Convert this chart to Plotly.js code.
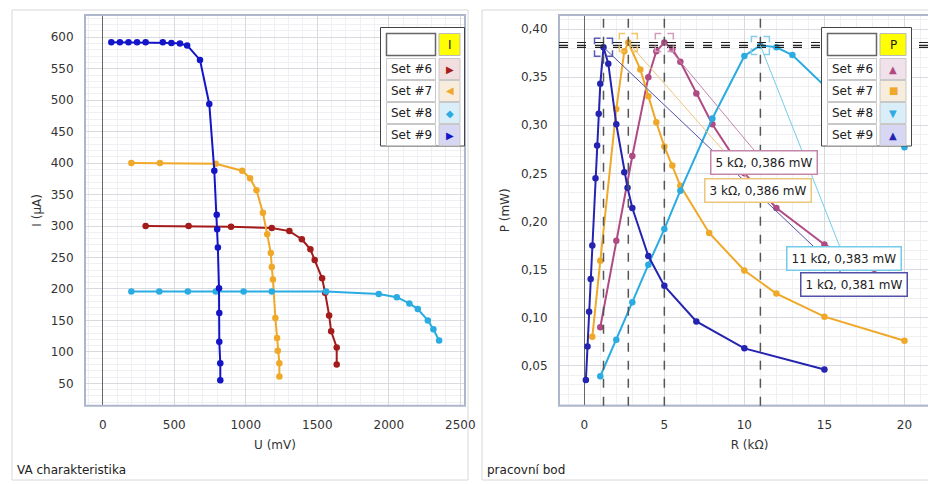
<!DOCTYPE html>
<html>
<head>
<meta charset="utf-8">
<script src="https://cdn.plot.ly/plotly-3.0.1.min.js"></script>
<style>
html,body{margin:0;padding:0;overflow:hidden;background:#fff;}
#chart{width:960px;height:484px;}
</style>
</head>
<body>
<div id="chart"></div>
<script>
// ---------- DATA: VA charakteristika (U in mV, I in µA) ----------
const u6 = [300,600,897,1182,1305,1392,1452,1482,1534,1555,1583,1597,1636,1636];
const i6 = [300,300,299,297,292,279,263,246,217,194,158,133,107,80];
const u7 = [200,400,790,975,1030,1075,1120,1150,1175,1182,1190,1207,1219,1224,1235,1235];
const i7 = [400,400,399,388,376,357,321,287,257,235,215,154,122,102,82,61];
const u8 = [200,395,595,790,985,1182,1562,1930,2056,2144,2203,2273,2312,2352];
const i8 = [196,196,196,196,196,196,196,192,187,177,168,150,136,118];
const u9 = [60,120,180,240,300,420,480,540,590,680,745,780,797,800,805,813,815,815,822,822];
const i9 = [592,592,592,592,592,592,591,590,587,564,494,388,318,295,266,201,162,116,82,55];

// ---------- DATA: pracovní bod (R in kΩ, P in mW) ----------
const r6 = [1.0,2.0,3.0,4.0,4.5,5.0,5.5,6.0,7.0,8.0,10,12,15,20];
const p6 = [0.090,0.180,0.268,0.350,0.377,0.386,0.379,0.366,0.333,0.301,0.250,0.214,0.176,0.131];
const r7 = [0.5,1.0,2.0,2.5,2.75,3.5,4.0,4.5,5.0,5.5,6.0,7.8,10,12,15,20];
const p7 = [0.080,0.159,0.317,0.377,0.386,0.358,0.330,0.303,0.278,0.258,0.237,0.188,0.149,0.125,0.101,0.076];
const r8 = [1.0,2.0,3.0,4.0,5.0,6.0,8.0,10,11,12,13,15,17,20];
const p8 = [0.039,0.077,0.116,0.155,0.192,0.232,0.307,0.372,0.383,0.381,0.373,0.341,0.314,0.277];
const r9 = [0.1,0.2,0.3,0.4,0.5,0.7,0.8,0.9,1.0,1.2,1.5,2.0,2.5,2.7,3.0,4.0,5.0,7.0,10,15];
const p9 = [0.035,0.070,0.106,0.140,0.175,0.245,0.279,0.312,0.343,0.381,0.364,0.301,0.251,0.235,0.214,0.164,0.133,0.096,0.068,0.046];

const setNames = ["Set #6","Set #7","Set #8","Set #9"];
const peakLabels = ["5 kΩ, 0,386 mW","3 kΩ, 0,386 mW","11 kΩ, 0,383 mW","1 kΩ, 0,381 mW"];
const leftTitle = "VA charakteristika";
const rightTitle = "pracovní bod";

// ---------- STYLE ----------
const W = 960, H = 484;
const FONT = "DejaVu Sans";
const fx = p => p / W;
const fy = p => 1 - p / H;
const colL = ["#a31b1b","#f0a828","#2aace2","#1414c8"];
const colR = ["#b04a82","#f0a828","#2aace2","#2424b0"];
const gridC = "#d8dae0", minorC = "#eff0f3";

function line(x, y, c, xa, ya){
  return {x:x, y:y, xaxis:xa, yaxis:ya, type:"scatter", mode:"lines+markers",
    line:{color:c, width:2}, marker:{color:c, size:6.5}, hoverinfo:"skip", showlegend:false};
}
const traces = [
  line(u6,i6,colL[0],"x","y"), line(u7,i7,colL[1],"x","y"),
  line(u8,i8,colL[2],"x","y"), line(u9,i9,colL[3],"x","y"),
  line(r6,p6,colR[0],"x2","y2"), line(r7,p7,colR[1],"x2","y2"),
  line(r8,p8,colR[2],"x2","y2"), line(r9,p9,colR[3],"x2","y2")
];

function axisBase(extra){
  return Object.assign({
    showgrid:true, gridcolor:gridC, gridwidth:1,
    ticks:"outside", ticklen:8, tickcolor:"rgba(0,0,0,0)",
    tickfont:{family:FONT, size:12, color:"#333"},
    showline:false, zeroline:false, fixedrange:true
  }, extra);
}
const yDom = [fy(405.7), fy(15)];
const layout = {
  width:W, height:H, margin:{l:0,r:0,t:0,b:0},
  paper_bgcolor:"#fff", plot_bgcolor:"#fff",
  separators:", ", showlegend:false,
  font:{family:FONT, size:12, color:"#333"},
  xaxis: axisBase({domain:[fx(85),fx(465)], range:[-124,2533], anchor:"y",
    tick0:0, dtick:500, minor:{dtick:100, showgrid:true, gridcolor:minorC},
    zeroline:true, zerolinecolor:"#666", zerolinewidth:1,
    title:{text:"U (mV)", font:{family:FONT,size:12,color:"#333"}, standoff:9}}),
  yaxis: axisBase({domain:yDom, range:[14.5,635.4], anchor:"x",
    tick0:0, dtick:50, minor:{dtick:10, showgrid:true, gridcolor:minorC},
    title:{text:"I (µA)", font:{family:FONT,size:12,color:"#333"}, standoff:6}}),
  xaxis2: axisBase({domain:[fx(559),fx(940)], range:[-1.58,22.22], anchor:"y2",
    tick0:0, dtick:5, minor:{dtick:1, showgrid:true, gridcolor:minorC},
    zeroline:true, zerolinecolor:"#666", zerolinewidth:1,
    title:{text:"R (kΩ)", font:{family:FONT,size:12,color:"#333"}, standoff:9}}),
  yaxis2: axisBase({domain:yDom, range:[0.0084,0.4146], anchor:"x2",
    tick0:0, dtick:0.05, tickformat:".2f", minor:{dtick:0.01, showgrid:true, gridcolor:minorC},
    title:{text:"P (mW)", font:{family:FONT,size:12,color:"#333"}, standoff:8}}),
  shapes:[], annotations:[]
};
const S = layout.shapes, A = layout.annotations;

function rectPx(x0,x1,y0,y1,lc,lw,fill){
  S.push({type:"rect", xref:"paper", yref:"paper", x0:fx(x0), x1:fx(x1), y0:fy(y1), y1:fy(y0),
    line:{color:lc, width:lw}, fillcolor:fill||"rgba(0,0,0,0)", layer:"above"});
}
function textPx(x,y,t,size,color,anchor){
  A.push({xref:"paper", yref:"paper", x:fx(x), y:fy(y), text:t, showarrow:false,
    xanchor:anchor||"center", yanchor:"middle", font:{family:FONT,size:size,color:color}});
}

// panel borders and plot frames
rectPx(12,468,10,480,"#d8d8d8",1);
rectPx(482,990,10,480,"#d8d8d8",1);
rectPx(85,465,15,405.7,"#aeb6cb",2);
rectPx(559,990,15,405.7,"#aeb6cb",2);

// peaks, dashed guide lines and bracket markers
const setsR = [[r6,p6],[r7,p7],[r8,p8],[r9,p9]];
const brC = ["#d49cbc","#f2c468","#88cce8","#5a5ab8"];
const peaks = setsR.map(([r,p]) => { let k = p.indexOf(Math.max(...p)); return [r[k], p[k]]; });
peaks.forEach(([pr,pp]) => {
  S.push({type:"line", xref:"x2", yref:"y2 domain", x0:pr, x1:pr, y0:0, y1:1,
    line:{color:"#555", width:1.5, dash:"dash"}, layer:"above"});
});
peaks.forEach(([pr,pp]) => {
  S.push({type:"line", xref:"x2 domain", yref:"y2", x0:0, x1:1, y0:pp, y1:pp,
    line:{color:"#222", width:1.2, dash:"dash"}, layer:"above"});
});
peaks.forEach(([pr,pp],k) => {
  S.push({type:"path", xref:"x2", yref:"y2", xsizemode:"pixel", ysizemode:"pixel",
    xanchor:pr, yanchor:pp,
    path:"M-9,3L-9,9L-3,9M3,9L9,9L9,3M9,-3L9,-9L3,-9M-3,-9L-9,-9L-9,-3",
    line:{color:brC[k], width:1.5}, layer:"above"});
});

// custom legends
function legend(ox0,ox1,nx0,nx1,sx0,sx1,head,glyphs,cols,tints){
  rectPx(ox0,ox1,27.5,146,"#444",1,"#fff");
  rectPx(nx0,nx1,33.5,55.5,"#666",1.5,"#fff");
  rectPx(sx0,sx1,33.5,55.5,"#bbb",1,"#ffff00");
  textPx((sx0+sx1)/2,44.5,head,12,"#222");
  for(let k=0;k<4;k++){
    const t = 58.5 + k*22, b = Math.min(t+21,146);
    rectPx(nx0,nx1,t,b,"#c8c8c8",1,"#fff");
    rectPx(sx0,sx1,t,b,"#c8c8c8",1,tints[k]);
    textPx((nx0+nx1)/2,t+10.5,setNames[k],12,"#222");
    textPx((sx0+sx1)/2,t+10.5,glyphs[k],10,cols[k]);
  }
}
legend(380.5,464.5,386.5,435.5,439,460,"I",["▶","◀","◆","▶"],colL,
  ["#f2dede","#f8ecdd","#d9eef9","#d7d7f4"]);
legend(821.5,911.5,827.5,876.5,880,906,"P",["▲","■","▼","▲"],colR,
  ["#f1e1eb","#f8ecdd","#d9eef9","#d7d7f4"]);

// peak labels (drawn set #9 first so later boxes cover its pointer)
const lblBorder = ["#c486ab","#ecc67a","#74cbe8","#5050a6"];
const lblOff = [[100,120],[130,148],[84,213],[250,237]];
[3,2,1,0].forEach(k => {
  A.push({xref:"x2", yref:"y2", x:peaks[k][0], y:peaks[k][1], ax:lblOff[k][0], ay:lblOff[k][1],
    text:peakLabels[k], showarrow:true, arrowhead:0, arrowwidth:1, arrowcolor:lblBorder[k],
    standoff:0, bgcolor:"#fff", bordercolor:lblBorder[k], borderwidth:1.5, borderpad:4,
    font:{family:FONT,size:12,color:"#222"}});
});

// panel titles
textPx(15,470,leftTitle,12,"#222","left");
textPx(485,470,rightTitle,12,"#222","left");

Plotly.newPlot("chart", traces, layout, {staticPlot:true, displayModeBar:false});
</script>
</body>
</html>
